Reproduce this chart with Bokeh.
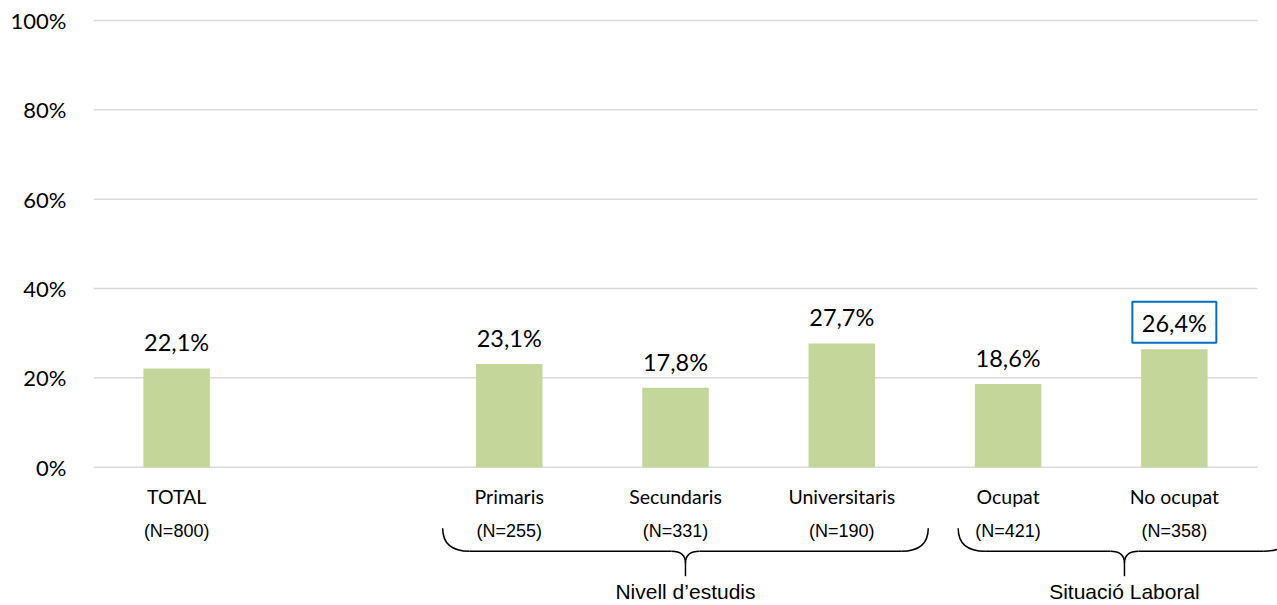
from bokeh.plotting import figure
from bokeh.models import Range1d, FixedTicker, PrintfTickFormatter, ColumnDataSource
from bokeh.core.properties import value
from bokeh.embed import file_html
from bokeh.resources import INLINE

# ---- data ----
categories = ["TOTAL", "", "Primaris", "Secundaris", "Universitaris", "Ocupat", "No ocupat"]
n_labels = ["(N=800)", "", "(N=255)", "(N=331)", "(N=190)", "(N=421)", "(N=358)"]
values = [22.1, None, 23.1, 17.8, 27.7, 18.6, 26.4]
highlight = [False, False, False, False, False, False, True]
y_ticks = [0, 20, 40, 60, 80, 100]
groups = ["Nivell d\u2019estudis", "Situaci\u00f3 Laboral"]
brace_start = [2.1, 5.2]
brace_end = [5.02, 7.2]

# ---- layout ----
W, H = 1277, 605
LEFT, TOP = 93, 12
N = len(categories)
PX = 1164 / N            # px per slot
PY = 4.467               # px per percent
frame_w = W - LEFT
frame_h = H - TOP
y_top = 100 + 8 / PY
y_bot = y_top - frame_h / PY
x_end = frame_w / PX

def dy(px):
    return -px / PY

def dx(px):
    return px / PX

p = figure(width=W, height=H, output_backend="svg", toolbar_location=None,
           x_range=Range1d(0, x_end), y_range=Range1d(y_bot, y_top),
           x_axis_type=None, min_border_left=LEFT, min_border_right=0,
           min_border_top=TOP, min_border_bottom=0)
p.outline_line_color = None
p.xgrid.visible = False
p.ygrid.visible = False
p.background_fill_color = "white"
p.border_fill_color = "white"

ax = p.yaxis[0]
ax.ticker = FixedTicker(ticks=y_ticks)
ax.formatter = PrintfTickFormatter(format="%d%%")
ax.axis_line_color = None
ax.major_tick_line_color = None
ax.minor_tick_line_color = None
ax.major_label_standoff = 21
ax.major_label_text_font = "Lato"
ax.major_label_text_font_size = "22px"
ax.major_label_text_color = "#000000"

# gridlines
p.segment(x0=[0] * len(y_ticks), x1=[N] * len(y_ticks), y0=y_ticks, y1=y_ticks,
          line_color="#d9d9d9", line_width=1.5)

xs = [i + 0.5 for i in range(N)]
bx = [x for x, v in zip(xs, values) if v is not None]
bv = [v for v in values if v is not None]
p.vbar(x=bx, top=bv, width=0.4, bottom=0, fill_color="#c4d79b", line_color=None)

labels = [("%.1f%%" % v).replace(".", ",") for v in bv]
p.text(x=bx, y=bv, text=labels, text_align="center", text_baseline="middle",
       y_offset=-26, text_font=value("Lato"), text_font_size="23.5px", text_color="#000000")

# highlight box
hx = [x for x, v, h in zip(xs, values, highlight) if h]
hy = [v + 27 / PY for v, h in zip(values, highlight) if h]
p.rect(x=hx, y=hy, width=84, height=41, width_units="screen", height_units="screen",
       fill_color=None, line_color="#0070c0", line_width=2)

# category labels
cx = [x for x, c in zip(xs, categories) if c]
cl = [c for c in categories if c]
p.text(x=cx, y=[0] * len(cx), text=cl, text_align="center", text_baseline="middle",
       y_offset=29, text_font=value("Lato"), text_font_size="19.5px", text_color="#000000")

nl = [c for c in n_labels if c]
nx = [x for x, c in zip(xs, n_labels) if c]
p.text(x=nx, y=[0] * len(nx), text=nl, text_align="center", text_baseline="middle",
       y_offset=64, text_font=value("Liberation Sans"), text_font_size="18px", text_color="#000000")

# braces
yTop, yMid, yC, yTip = dy(61), dy(84), dy(96), dy(109)
a, b = dx(27), dx(14)
q = dict(x0=[], y0=[], x1=[], y1=[], cx=[], cy=[])
sx0, sy0, sx1, sy1 = [], [], [], []
tip_x = []
for s, e in zip(brace_start, brace_end):
    t = (s + e) / 2
    tip_x.append(t)
    for (X0, Y0, X1, Y1, CX, CY) in [
        (s, yTop, s + a, yMid, s, yMid),
        (e, yTop, e - a, yMid, e, yMid),
        (t - b, yMid, t, yC, t, yMid),
        (t + b, yMid, t, yC, t, yMid),
    ]:
        q["x0"].append(X0); q["y0"].append(Y0); q["x1"].append(X1)
        q["y1"].append(Y1); q["cx"].append(CX); q["cy"].append(CY)
    sx0 += [s + a, t + b, t]
    sx1 += [t - b, e - a, t]
    sy0 += [yMid, yMid, yC]
    sy1 += [yMid, yMid, yTip]
p.quadratic(source=ColumnDataSource(q), x0="x0", y0="y0", x1="x1", y1="y1", cx="cx", cy="cy",
            line_color="#000000", line_width=1.5)
p.segment(x0=sx0, y0=sy0, x1=sx1, y1=sy1, line_color="#000000", line_width=1.5)

p.text(x=tip_x, y=[0] * len(tip_x), text=groups, text_align="center", text_baseline="middle",
       y_offset=124, text_font=value("Liberation Sans"), text_font_size="21px", text_color="#000000")

open("out.html", "w").write(file_html(p, INLINE))
